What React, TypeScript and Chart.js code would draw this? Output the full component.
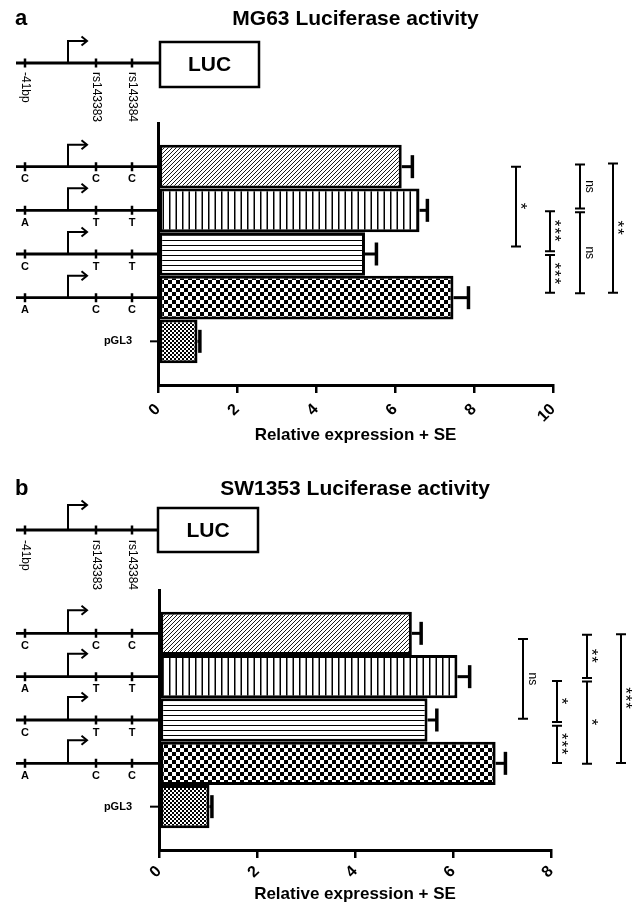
import React, { useEffect, useRef } from "react";
import { Chart, registerables } from "chart.js";
Chart.register(...registerables);

const FONT = '"Liberation Sans", Arial, Helvetica, sans-serif';

// ---------- data ----------
const categories = ["C-C-C", "A-T-T", "C-T-T", "A-C-C", "pGL3"];
const rowAlleles = [
  ["C", "C", "C"],
  ["A", "T", "T"],
  ["C", "T", "T"],
  ["A", "C", "C"],
];
const siteLabels = ["-41bp", "rs143383", "rs143384"];
const axisTitle = "Relative expression + SE";

const mg63Means = [6.17, 6.62, 5.24, 7.48, 1.0];
const mg63SE = [0.27, 0.2, 0.29, 0.38, 0.06];
const mg63Ticks = [0, 2, 4, 6, 8, 10];
const mg63BracketStops = [[0, 1.83], [1.02, 1.98, 2.89], [-0.05, 1.0, 2.9], [-0.07, 2.89]];
const mg63BracketLabels = [["*"], ["***", "***"], ["ns", "ns"], ["**"]];

const sw1353Means = [5.16, 6.09, 5.48, 6.87, 1.03];
const sw1353SE = [0.19, 0.25, 0.19, 0.2, 0.05];
const sw1353Ticks = [0, 2, 4, 6, 8];
const sw1353BracketStops = [[0.13, 1.97], [1.1, 2.09, 2.99], [0.03, 1.07, 3.01], [0.02, 2.99]];
const sw1353BracketLabels = [["ns"], ["*", "***"], ["**", "*"], ["***"]];

// ---------- layout ----------
type PanelSpec = {
  letter: string;
  title: string;
  means: number[];
  se: number[];
  ticks: number[];
  stops: number[][];
  labels: string[][];
  height: number;
  pad: { left: number; right: number; top: number };
  xAxisHeight: number;
  tickPad: number;
  titlePadBottom: number;
  bracketX: number[];
  headerBaseline: number;
  topLineY: number;
  box: [number, number, number, number];
  topRise: number;
  rowRise: number;
  siteLabelY: number;
};

const panelA: PanelSpec = {
  letter: "a",
  title: "MG63 Luciferase activity",
  means: mg63Means,
  se: mg63SE,
  ticks: mg63Ticks,
  stops: mg63BracketStops,
  labels: mg63BracketLabels,
  height: 460,
  pad: { left: 158, right: 83, top: 123 },
  xAxisHeight: 75,
  tickPad: 7,
  titlePadBottom: 14,
  bracketX: [516, 550, 580, 613],
  headerBaseline: 25,
  topLineY: 63,
  box: [160, 42, 99, 45],
  topRise: 22,
  rowRise: 22,
  siteLabelY: 72,
};

const panelB: PanelSpec = {
  letter: "b",
  title: "SW1353 Luciferase activity",
  means: sw1353Means,
  se: sw1353SE,
  ticks: sw1353Ticks,
  stops: sw1353BracketStops,
  labels: sw1353BracketLabels,
  height: 447,
  pad: { left: 159, right: 85, top: 130 },
  xAxisHeight: 57,
  tickPad: 4,
  titlePadBottom: 2,
  bracketX: [523, 557, 587, 621],
  headerBaseline: 35,
  topLineY: 70,
  box: [158, 48, 100, 44],
  topRise: 25,
  rowRise: 23,
  siteLabelY: 80,
};

const LINE_START = 16;
const SITE_X = [25, 96, 132];
const ARROW_X = 68;
const ARROW_END = 87;

function makePatterns(): CanvasPattern[] {
  const mk = (w: number, h: number, draw: (g: CanvasRenderingContext2D) => void) => {
    const c = document.createElement("canvas");
    c.width = w;
    c.height = h;
    const g = c.getContext("2d")!;
    g.fillStyle = "#fff";
    g.fillRect(0, 0, w, h);
    draw(g);
    return g.createPattern(c, "repeat")!;
  };
  const diag = mk(4, 4, (g) => {
    g.strokeStyle = "#1a1a1a";
    g.lineWidth = 1;
    g.beginPath();
    g.moveTo(-1, 5);
    g.lineTo(5, -1);
    g.moveTo(-1, 1);
    g.lineTo(1, -1);
    g.moveTo(3, 5);
    g.lineTo(5, 3);
    g.stroke();
  });
  const vert = mk(13, 2, (g) => {
    g.fillStyle = "#000";
    g.fillRect(0, 0, 1.5, 2);
    g.fillRect(6.5, 0, 1.5, 2);
  });
  const horiz = mk(2, 5, (g) => {
    g.fillStyle = "#000";
    g.fillRect(0, 0, 2, 1);
  });
  const checker = mk(8, 8, (g) => {
    g.fillStyle = "#000";
    g.fillRect(0, 0, 4, 4);
    g.fillRect(4, 4, 4, 4);
  });
  const fine = mk(4, 4, (g) => {
    g.fillStyle = "#000";
    g.fillRect(0, 0, 2, 2);
    g.fillRect(2, 2, 2, 2);
  });
  return [diag, vert, horiz, checker, fine];
}

function drawPromoter(ctx: CanvasRenderingContext2D, y: number, xEnd: number, rise: number) {
  ctx.strokeStyle = "#000";
  ctx.lineCap = "butt";
  ctx.lineWidth = 2.8;
  ctx.beginPath();
  ctx.moveTo(LINE_START, y);
  ctx.lineTo(xEnd, y);
  ctx.stroke();
  ctx.lineWidth = 2.5;
  ctx.beginPath();
  SITE_X.forEach((sx) => {
    ctx.moveTo(sx, y - 4.5);
    ctx.lineTo(sx, y + 4.5);
  });
  ctx.stroke();
  ctx.lineWidth = 2;
  ctx.beginPath();
  ctx.moveTo(ARROW_X, y);
  ctx.lineTo(ARROW_X, y - rise);
  ctx.lineTo(ARROW_END, y - rise);
  ctx.stroke();
  ctx.beginPath();
  ctx.moveTo(ARROW_END - 5.5, y - rise - 4.5);
  ctx.lineTo(ARROW_END, y - rise);
  ctx.lineTo(ARROW_END - 5.5, y - rise + 4.5);
  ctx.stroke();
}

function drawRotatedLabel(ctx: CanvasRenderingContext2D, text: string, x: number, y: number) {
  ctx.save();
  ctx.translate(x, y);
  ctx.rotate(Math.PI / 2);
  ctx.fillStyle = "#000";
  ctx.textAlign = "center";
  if (text.includes("*")) {
    const fs = 17;
    ctx.font = `${fs}px ${FONT}`;
    (ctx as any).letterSpacing = "1px";
    ctx.textBaseline = "alphabetic";
    ctx.fillText(text, 0, 0.58 * fs);
    (ctx as any).letterSpacing = "0px";
  } else {
    ctx.font = `12px ${FONT}`;
    ctx.textBaseline = "middle";
    ctx.fillText(text, 0, 0);
  }
  ctx.restore();
}

function Panel({ spec }: { spec: PanelSpec }) {
  const ref = useRef<HTMLCanvasElement>(null);
  useEffect(() => {
    const canvas = ref.current!;
    const patterns = makePatterns();
    const decor = {
      id: "decor",
      afterDatasetsDraw(chart: any) {
        const ctx: CanvasRenderingContext2D = chart.ctx;
        const xs = chart.scales.x;
        const meta = chart.getDatasetMeta(0);
        ctx.save();
        ctx.strokeStyle = "#000";
        meta.data.forEach((bar: any, i: number) => {
          const x0 = xs.getPixelForValue(spec.means[i]);
          const x1 = xs.getPixelForValue(spec.means[i] + spec.se[i]);
          const y = bar.y;
          ctx.lineWidth = 3;
          ctx.beginPath();
          ctx.moveTo(x0, y);
          ctx.lineTo(x1, y);
          ctx.stroke();
          ctx.lineWidth = 3.5;
          ctx.beginPath();
          ctx.moveTo(x1, y - 11.5);
          ctx.lineTo(x1, y + 11.5);
          ctx.stroke();
        });
        ctx.restore();
      },
      afterDraw(chart: any) {
        const ctx: CanvasRenderingContext2D = chart.ctx;
        const area = chart.chartArea;
        const ys = chart.scales.y;
        ctx.save();
        ctx.fillStyle = "#000";
        // header
        ctx.textBaseline = "alphabetic";
        ctx.textAlign = "left";
        ctx.font = `bold 22px ${FONT}`;
        ctx.fillText(spec.letter, 15, spec.headerBaseline);
        ctx.textAlign = "center";
        ctx.font = `bold 21px ${FONT}`;
        ctx.fillText(spec.title, (area.left + area.right) / 2, spec.headerBaseline);

        // top construct diagram
        const [bx, by, bw, bh] = spec.box;
        drawPromoter(ctx, spec.topLineY, bx, spec.topRise);
        ctx.lineWidth = 2.5;
        ctx.strokeRect(bx, by, bw, bh);
        ctx.font = `bold 21px ${FONT}`;
        ctx.textAlign = "center";
        ctx.textBaseline = "middle";
        ctx.fillText("LUC", bx + bw / 2, by + bh / 2 + 1);
        ctx.font = `12px ${FONT}`;
        siteLabels.forEach((lab, k) => {
          ctx.save();
          ctx.translate(SITE_X[k], spec.siteLabelY);
          ctx.rotate(Math.PI / 2);
          ctx.textAlign = "left";
          ctx.textBaseline = "middle";
          ctx.fillText(lab, 0, 0);
          ctx.restore();
        });

        // row constructs
        rowAlleles.forEach((al, i) => {
          const y = ys.getPixelForValue(i);
          drawPromoter(ctx, y, area.left, spec.rowRise);
          ctx.font = `bold 11px ${FONT}`;
          ctx.textAlign = "center";
          ctx.textBaseline = "middle";
          al.forEach((a, k) => ctx.fillText(a, SITE_X[k], y + 12.5));
        });
        const yp = ys.getPixelForValue(4);
        ctx.font = `bold 11px ${FONT}`;
        ctx.textAlign = "right";
        ctx.textBaseline = "middle";
        ctx.fillText(categories[4], 132, yp);
        ctx.lineWidth = 2;
        ctx.beginPath();
        ctx.moveTo(150, yp);
        ctx.lineTo(area.left, yp);
        ctx.stroke();

        // significance brackets
        ctx.lineWidth = 2;
        spec.stops.forEach((st, j) => {
          const x = spec.bracketX[j];
          const py = st.map((v) => ys.getPixelForValue(v));
          const segs = py.length === 2 ? [[py[0], py[1]]] : [[py[0], py[1] - 1.8], [py[1] + 1.8, py[2]]];
          segs.forEach(([a, b], k) => {
            ctx.beginPath();
            ctx.moveTo(x, a);
            ctx.lineTo(x, b);
            ctx.moveTo(x - 5, a);
            ctx.lineTo(x + 5, a);
            ctx.moveTo(x - 5, b);
            ctx.lineTo(x + 5, b);
            ctx.stroke();
            const lab = spec.labels[j][k];
            if (lab) drawRotatedLabel(ctx, lab, x + 9, (a + b) / 2);
          });
        });
        ctx.restore();
      },
    };

    const chart = new Chart(canvas, {
      type: "bar",
      data: {
        labels: categories,
        datasets: [
          {
            data: spec.means.map((v, i) => ({ x: v, y: i })) as any,
            backgroundColor: patterns as any,
            borderColor: "#000",
            borderWidth: 3,
            borderSkipped: false,
            inflateAmount: 0,
            barPercentage: 1,
            categoryPercentage: 1,
          },
        ],
      },
      options: {
        indexAxis: "y",
        responsive: false,
        animation: false,
        events: [],
        layout: { padding: { left: spec.pad.left, right: spec.pad.right, top: spec.pad.top, bottom: 0 } },
        plugins: {
          legend: { display: false },
          tooltip: { enabled: false },
          title: { display: false },
        },
        scales: {
          x: {
            type: "linear",
            min: spec.ticks[0],
            max: spec.ticks[spec.ticks.length - 1],
            afterBuildTicks: (s: any) => {
              s.ticks = spec.ticks.map((v) => ({ value: v }));
            },
            afterFit: (s: any) => {
              s.height = spec.xAxisHeight;
            },
            ticks: {
              autoSkip: false,
              minRotation: 45,
              maxRotation: 45,
              padding: spec.tickPad,
              color: "#000",
              font: { family: FONT, size: 16, weight: "bold" },
            },
            grid: {
              drawOnChartArea: false,
              drawTicks: true,
              tickLength: 8,
              tickWidth: 2.5,
              tickColor: "#000",
              color: "#000",
              lineWidth: 2.5,
            },
            border: { display: true, color: "#000", width: 3 },
            title: {
              display: true,
              text: axisTitle,
              color: "#000",
              font: { family: FONT, size: 17, weight: "bold" },
              padding: { top: 0, bottom: spec.titlePadBottom },
            },
          },
          y: {
            type: "linear",
            reverse: true,
            min: -1,
            max: 5,
            offset: false,
            afterFit: (s: any) => {
              s.width = 0;
            },
            ticks: { display: false, stepSize: 1 },
            grid: { offset: false, drawOnChartArea: false, drawTicks: false },
            border: { display: true, color: "#000", width: 3 },
          },
        },
      } as any,
      plugins: [decor],
    });
    return () => chart.destroy();
  }, [spec]);
  return (
    <canvas
      ref={ref}
      width={636}
      height={spec.height}
      style={{ display: "block", width: 636, height: spec.height }}
    />
  );
}

export default function App() {
  return (
    <div style={{ position: "absolute", left: 0, top: 0, width: 636, height: 907, background: "#fff" }}>
      <Panel spec={panelA} />
      <Panel spec={panelB} />
    </div>
  );
}
